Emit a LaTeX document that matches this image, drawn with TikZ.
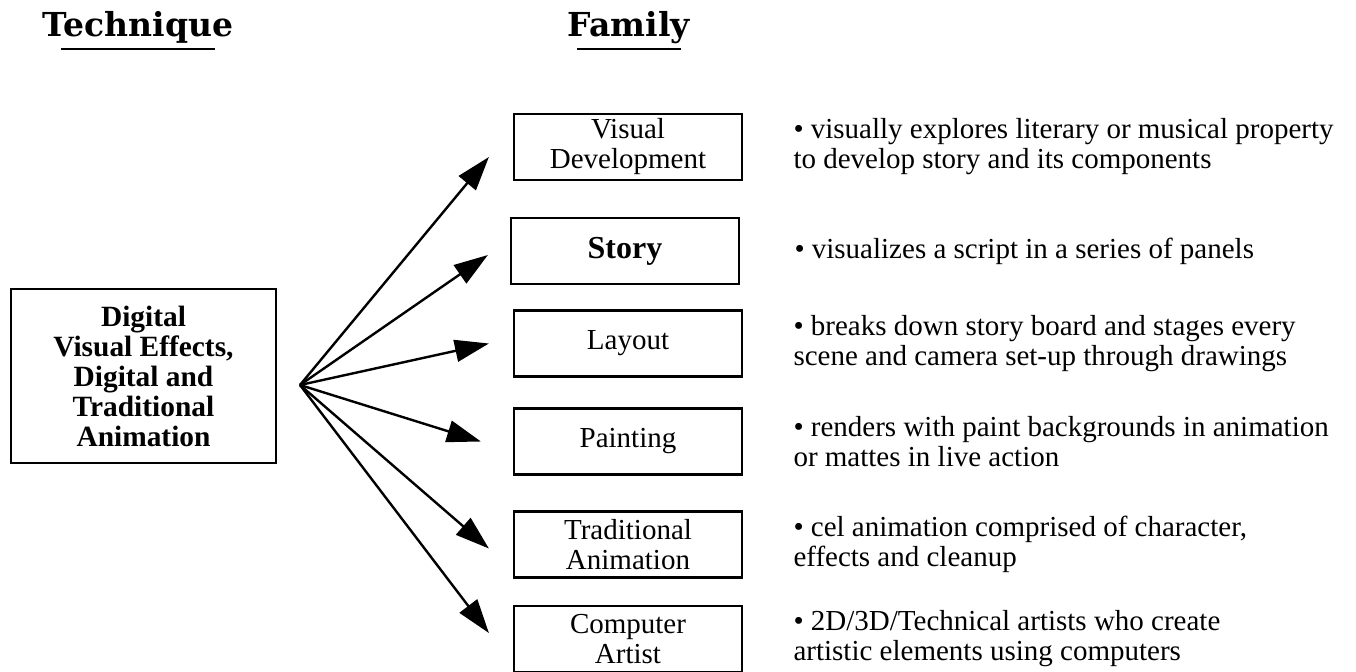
\documentclass[tikz,border=0pt]{standalone}
\usepackage{fontspec}
\setmainfont{Liberation Serif}
\newfontfamily\headfont{DejaVu Serif}
\usetikzlibrary{positioning,arrows.meta}

\tikzset{
  familybox/.style={draw, line width=1.1pt, minimum width=114pt, minimum height=33pt, align=center, inner sep=2pt, font=\fontsize{14.5}{15}\selectfont},
  descr/.style={align=left, inner sep=0pt, font=\fontsize{14.5}{15}\selectfont},
  arr/.style={-{Triangle[length=17pt,width=11pt]}, line width=1.2pt},
}

\begin{document}
\begin{tikzpicture}[x=0.5pt, y=-0.5pt]
\useasboundingbox (0,0) rectangle (1356,671);
% Headings
\node[anchor=base, font=\headfont\bfseries\fontsize{16.5}{18}\selectfont] (technique) at (138,36) {Technique};
\node[anchor=base, font=\headfont\bfseries\fontsize{16.5}{18}\selectfont] (family) at (629,36) {Family};
\draw[line width=1.4pt] (61,49) -- (215,49);
\draw[line width=1.4pt] (577,49) -- (681,49);

% Technique box
\node[draw, line width=1.1pt, minimum width=132.5pt, minimum height=87pt, align=center, font=\bfseries\fontsize{14.7}{15}\selectfont] (digital) at (143.5,376) {Digital\\Visual Effects,\\Digital and\\Traditional\\Animation};
\coordinate (hub) at (300,385);

% Family boxes
\node[familybox] (visdev) at (628,147) {Visual\\Development};
\node[familybox, font=\bfseries\fontsize{16}{17}\selectfont] (story) at (625,251) {Story};
\node[familybox] (layout) at (628,343.5) {Layout};
\node[familybox] (painting) at (628,441.5) {Painting};
\node[familybox] (tradanim) at (628,544.5) {Traditional\\Animation};
\node[familybox] (computer) at (628,639) {Computer\\Artist};

% Descriptions
\node[descr, right=25pt of visdev] (visdevtxt) {\textbullet{} visually explores literary or musical property\\to develop story and its components};
\node[descr, right=27pt of story] (storytxt) {\textbullet{} visualizes a script in a series of panels};
\node[descr, right=25pt of layout] (layouttxt) {\textbullet{} breaks down story board and stages every\\scene and camera set-up through drawings};
\node[descr, right=25pt of painting] (paintingtxt) {\textbullet{} renders with paint backgrounds in animation\\or mattes in live action};
\node[descr, right=25pt of tradanim] (tradanimtxt) {\textbullet{} cel animation comprised of character,\\effects and cleanup};
\node[descr, right=25pt of computer] (computertxt) {\textbullet{} 2D/3D/Technical artists who create\\artistic elements using computers};

% Arrows
\draw[arr] (hub) -- ([xshift=-12pt,yshift=-5pt]visdev.west);
\draw[arr] (hub) -- ([xshift=-11pt,yshift=-2pt]story.west);
\draw[arr] (hub) -- ([xshift=-12pt]layout.west);
\draw[arr] (hub) -- ([xshift=-16pt]painting.west);
\draw[arr] (hub) -- ([xshift=-12pt,yshift=-2pt]tradanim.west);
\draw[arr] (hub) -- ([xshift=-12pt,yshift=3pt]computer.west);
\end{tikzpicture}
\end{document}
